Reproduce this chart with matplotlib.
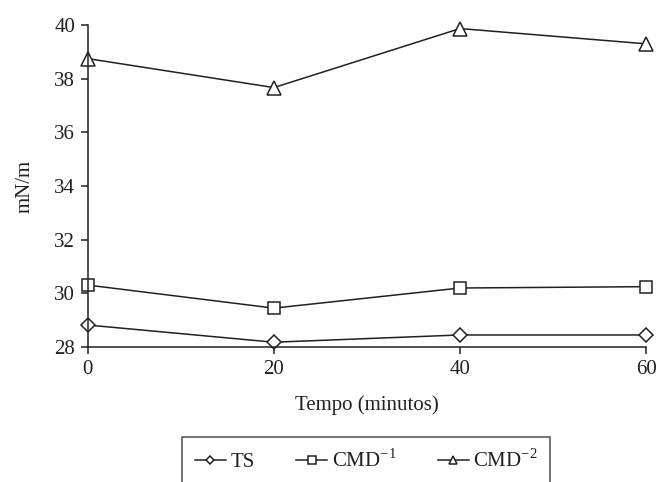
import matplotlib
matplotlib.use("Agg")
import matplotlib.pyplot as plt

plt.rcParams['font.family'] = ['Liberation Serif', 'DejaVu Serif']
plt.rcParams['mathtext.fontset'] = 'custom'
plt.rcParams['mathtext.rm'] = 'Liberation Serif'

tempo = [0, 20, 40, 60]
ts = [28.82, 28.18, 28.45, 28.45]
cmd1 = [30.31, 29.45, 30.2, 30.25]
cmd2 = [38.75, 37.67, 39.87, 39.3]

ink = '#231f20'

fig = plt.figure(figsize=(6.6, 4.82), dpi=100)
ax = fig.add_axes([0.133, 0.280, 0.846, 0.668])

style = dict(color=ink, lw=1.1, markerfacecolor='white', markeredgecolor=ink, markeredgewidth=1.1)
ax.plot(tempo, ts, marker='D', markersize=7, label='TS', **style)
ax.plot(tempo, cmd1, marker='s', markersize=9, label='CMD$^{-1}$', **style)
ax.plot(tempo, cmd2, marker='^', markersize=10, label='CMD$^{-2}$', **style)

ax.set_xlim(0, 60)
ax.set_ylim(28, 40)
ax.set_xticks([0, 20, 40, 60])
ax.set_yticks(range(28, 41, 2))
for s in ['top', 'right']:
    ax.spines[s].set_visible(False)
for s in ['left', 'bottom']:
    ax.spines[s].set_color(ink)
    ax.spines[s].set_linewidth(1.1)
ax.tick_params(colors=ink, labelsize=15, length=5, width=1.1, direction='out', pad=4)
for lab in ax.get_xticklabels() + ax.get_yticklabels():
    lab.set_color(ink)

ax.set_xlabel('Tempo (minutos)', fontsize=15, color=ink, labelpad=12)
ax.set_ylabel('mN/m', fontsize=15, color=ink, labelpad=14)

for line in ax.lines:
    line.set_clip_on(False)

leg = fig.legend(loc='upper center', bbox_to_anchor=(0.555, 0.093), ncol=3,
                 frameon=True, fancybox=False, edgecolor=ink, fontsize=15,
                 markerscale=0.6, handlelength=1.5, handletextpad=0.2,
                 columnspacing=2.0, borderpad=0.6, borderaxespad=0)
leg.get_frame().set_linewidth(1.1)
for t in leg.get_texts():
    t.set_color(ink)

fig.savefig('out.png', dpi=100)
